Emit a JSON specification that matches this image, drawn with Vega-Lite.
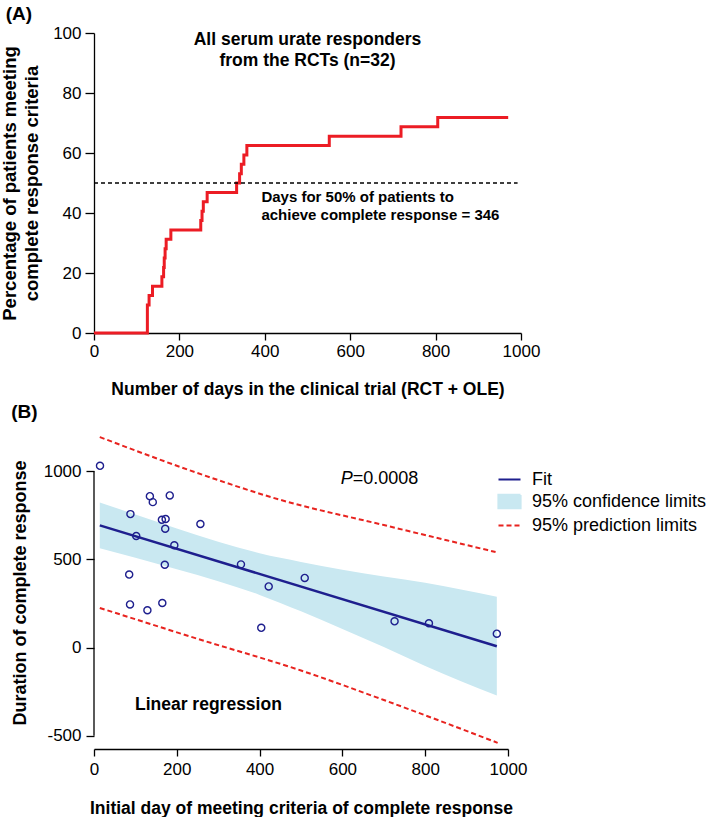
{
  "$schema": "https://vega.github.io/schema/vega-lite/v6.json",
  "padding": {"left": 0, "top": 5, "right": 0, "bottom": 0},
  "spacing": 5,
  "resolve": {"scale": {"color": "independent"}, "legend": {"color": "independent"}},
  "config": {
    "view": {"stroke": null},
    "font": "Liberation Sans",
    "axis": {"grid": false, "labelFont": "Liberation Sans", "titleFont": "Liberation Sans", "labelFontSize": 17, "titleFontSize": 17.5, "titleFontWeight": "bold", "labelColor": "black", "titleColor": "black", "domainColor": "black", "tickColor": "black", "domainWidth": 1.3, "tickWidth": 1.3, "labelExpr": "'' + datum.value"},
    "text": {"font": "Liberation Sans", "color": "black"},
    "title": {"font": "Liberation Sans", "color": "black"}
  },
  "datasets": {
    "steps": [
      {"day": 0, "pct": 0}, {"day": 125, "pct": 9.375}, {"day": 129, "pct": 12.5}, {"day": 137, "pct": 15.625},
      {"day": 159, "pct": 18.75}, {"day": 163, "pct": 21.875}, {"day": 164.5, "pct": 25}, {"day": 166.5, "pct": 28.125},
      {"day": 169, "pct": 31.25}, {"day": 180, "pct": 34.375}, {"day": 250, "pct": 37.5}, {"day": 253, "pct": 40.625},
      {"day": 256, "pct": 43.75}, {"day": 265, "pct": 46.875}, {"day": 334, "pct": 50}, {"day": 341, "pct": 53.125},
      {"day": 345, "pct": 56.25}, {"day": 351, "pct": 59.375}, {"day": 358, "pct": 62.5}, {"day": 551, "pct": 65.625},
      {"day": 719, "pct": 68.75}, {"day": 805, "pct": 71.875}, {"day": 970, "pct": 71.875}
    ],
    "points": [
      {"day": 14.5, "dur": 1031}, {"day": 135, "dur": 859}, {"day": 142, "dur": 825}, {"day": 183, "dur": 863},
      {"day": 88, "dur": 757}, {"day": 164, "dur": 725}, {"day": 173, "dur": 729}, {"day": 172, "dur": 674},
      {"day": 257, "dur": 701}, {"day": 102, "dur": 633}, {"day": 194, "dur": 580}, {"day": 171, "dur": 470},
      {"day": 355, "dur": 472}, {"day": 422, "dur": 347}, {"day": 85, "dur": 414}, {"day": 87, "dur": 245},
      {"day": 165, "dur": 253}, {"day": 129, "dur": 212}, {"day": 509, "dur": 395}, {"day": 404, "dur": 112},
      {"day": 726, "dur": 149}, {"day": 809, "dur": 138}, {"day": 973, "dur": 79}
    ],
    "fit": [
      {"series": "Fit", "day": 14, "val": 693}, {"series": "Fit", "day": 973, "val": 8}
    ],
    "conf": [
      {"series": "95% confidence limits", "day": 14, "lo": 563, "hi": 823},
      {"series": "95% confidence limits", "day": 100, "lo": 509, "hi": 755},
      {"series": "95% confidence limits", "day": 200, "lo": 444, "hi": 676},
      {"series": "95% confidence limits", "day": 300, "lo": 377, "hi": 601},
      {"series": "95% confidence limits", "day": 400, "lo": 299, "hi": 535},
      {"series": "95% confidence limits", "day": 500, "lo": 206, "hi": 486},
      {"series": "95% confidence limits", "day": 600, "lo": 106, "hi": 442},
      {"series": "95% confidence limits", "day": 700, "lo": 3, "hi": 403},
      {"series": "95% confidence limits", "day": 800, "lo": -104, "hi": 368},
      {"series": "95% confidence limits", "day": 973, "lo": -272, "hi": 288}
    ],
    "pred": [
      {"series": "95% prediction limits", "bound": "upper", "day": 14, "val": 1194},
      {"series": "95% prediction limits", "bound": "upper", "day": 250, "val": 990},
      {"series": "95% prediction limits", "bound": "upper", "day": 447, "val": 840},
      {"series": "95% prediction limits", "bound": "upper", "day": 700, "val": 695},
      {"series": "95% prediction limits", "bound": "upper", "day": 970, "val": 542},
      {"series": "95% prediction limits", "bound": "lower", "day": 14, "val": 225},
      {"series": "95% prediction limits", "bound": "lower", "day": 250, "val": 50},
      {"series": "95% prediction limits", "bound": "lower", "day": 500, "val": -130},
      {"series": "95% prediction limits", "bound": "lower", "day": 700, "val": -297},
      {"series": "95% prediction limits", "bound": "lower", "day": 975, "val": -540}
    ]
  },
  "vconcat": [
    {
      "width": 427,
      "height": 300,
      "title": {"text": "(A)", "anchor": "start", "frame": "bounds", "fontSize": 19, "fontWeight": "bold", "offset": 0, "dx": 5},
      "layer": [
        {
          "data": {"name": "steps"},
          "mark": {"type": "line", "interpolate": "step-after", "color": "#ec1c24", "strokeWidth": 3},
          "encoding": {
            "x": {"field": "day", "type": "quantitative", "scale": {"domain": [0, 1000], "nice": false},
              "axis": {"values": [0, 200, 400, 600, 800, 1000], "title": "Number of days in the clinical trial (RCT + OLE)", "labelFlush": false, "tickSize": 7, "labelPadding": 3, "titlePadding": 21}},
            "y": {"field": "pct", "type": "quantitative", "scale": {"domain": [0, 100], "nice": false},
              "axis": {"values": [0, 20, 40, 60, 80, 100], "title": ["Percentage of patients meeting", "complete response criteria"], "titleFontSize": 18.5, "titleLineHeight": 22, "tickSize": 9, "labelPadding": 4, "titlePadding": 11}}
          }
        },
        {
          "data": {"values": [{}]},
          "mark": {"type": "rule", "strokeDash": [4, 3], "strokeWidth": 1.3, "color": "black"},
          "encoding": {"x": {"datum": 0}, "x2": {"datum": 992}, "y": {"datum": 50}}
        },
        {
          "data": {"values": [{}]},
          "mark": {"type": "text", "text": ["All serum urate responders", "from the RCTs (n=32)"], "fontSize": 17.5, "fontWeight": "bold", "align": "center", "baseline": "middle", "lineHeight": 21.7},
          "encoding": {"x": {"datum": 500}, "y": {"datum": 97.8}}
        },
        {
          "data": {"values": [{}]},
          "mark": {"type": "text", "text": ["Days for 50% of patients to", "achieve complete response = 346"], "fontSize": 15, "fontWeight": "bold", "align": "left", "baseline": "middle", "lineHeight": 18.3},
          "encoding": {"x": {"datum": 392}, "y": {"datum": 45.5}}
        }
      ]
    },
    {
      "width": 414,
      "height": 313,
      "title": {"text": "(B)", "anchor": "start", "frame": "bounds", "fontSize": 19, "fontWeight": "bold", "offset": 11, "dx": 0},
      "layer": [
        {
          "data": {"name": "conf"},
          "mark": {"type": "area", "interpolate": "monotone", "opacity": 1},
          "encoding": {
            "x": {"field": "day", "type": "quantitative", "scale": {"domain": [0, 1000], "nice": false},
              "axis": {"values": [0, 200, 400, 600, 800, 1000], "title": "Initial day of meeting criteria of complete response", "labelFlush": false, "tickSize": 7, "labelPadding": 5, "titlePadding": 22}},
            "y": {"field": "lo", "type": "quantitative", "scale": {"domain": [-575, 1200], "nice": false, "zero": false},
              "axis": {"values": [-500, 0, 500, 1000], "domain": false, "title": "Duration of complete response", "titleFontSize": 18, "tickSize": 8, "labelPadding": 5, "titlePadding": 14}},
            "y2": {"field": "hi"},
            "color": {"field": "series", "type": "nominal",
              "scale": {"domain": ["Fit", "95% confidence limits", "95% prediction limits"], "range": ["#1e1f8e", "#c9e8f1", "#e8231f"]},
              "legend": {
                "title": null, "orient": "none", "legendX": 403, "legendY": 31,
                "labelFontSize": 18, "labelFont": "Liberation Sans", "labelColor": "black", "labelLimit": 400,
                "symbolSize": 484, "labelOffset": 10, "rowPadding": 0, "symbolStrokeWidth": 2.2,
                "encode": {
                  "symbols": {
                    "update": {
                      "shape": [{"test": "datum.value === '95% confidence limits'", "value": "M-1,-0.6H1V0.6H-1Z"}, {"value": "stroke"}],
                      "fill": [{"test": "datum.value === '95% confidence limits'", "value": "#c9e8f1"}, {"value": "transparent"}],
                      "stroke": [{"test": "datum.value === 'Fit'", "value": "#1e1f8e"}, {"test": "datum.value === '95% prediction limits'", "value": "#e8231f"}, {"value": "transparent"}],
                      "strokeDash": [{"test": "datum.value === '95% prediction limits'", "value": [5, 3]}, {"value": [1, 0]}],
                      "strokeWidth": {"value": 2.2},
                      "opacity": {"value": 1}
                    }
                  }
                }
              }
            }
          }
        },
        {
          "data": {"name": "pred"},
          "mark": {"type": "line", "interpolate": "monotone", "strokeDash": [5, 3], "strokeWidth": 2},
          "encoding": {
            "x": {"field": "day", "type": "quantitative"},
            "y": {"field": "val", "type": "quantitative"},
            "color": {"field": "series", "type": "nominal",
              "legend": {
                "title": null, "orient": "none", "legendX": 403, "legendY": 31,
                "labelFontSize": 18, "labelFont": "Liberation Sans", "labelColor": "black", "labelLimit": 400,
                "symbolSize": 484, "labelOffset": 10, "rowPadding": 0, "symbolStrokeWidth": 2.2,
                "encode": {
                  "symbols": {
                    "update": {
                      "shape": [{"test": "datum.value === '95% confidence limits'", "value": "M-1,-0.6H1V0.6H-1Z"}, {"value": "stroke"}],
                      "fill": [{"test": "datum.value === '95% confidence limits'", "value": "#c9e8f1"}, {"value": "transparent"}],
                      "stroke": [{"test": "datum.value === 'Fit'", "value": "#1e1f8e"}, {"test": "datum.value === '95% prediction limits'", "value": "#e8231f"}, {"value": "transparent"}],
                      "strokeDash": [{"test": "datum.value === '95% prediction limits'", "value": [5, 3]}, {"value": [1, 0]}],
                      "strokeWidth": {"value": 2.2},
                      "opacity": {"value": 1}
                    }
                  }
                }
              }},
            "detail": {"field": "bound"}
          }
        },
        {
          "data": {"name": "fit"},
          "mark": {"type": "line", "strokeWidth": 2.5},
          "encoding": {
            "x": {"field": "day", "type": "quantitative"},
            "y": {"field": "val", "type": "quantitative"},
            "color": {"field": "series", "type": "nominal",
              "legend": {
                "title": null, "orient": "none", "legendX": 403, "legendY": 31,
                "labelFontSize": 18, "labelFont": "Liberation Sans", "labelColor": "black", "labelLimit": 400,
                "symbolSize": 484, "labelOffset": 10, "rowPadding": 0, "symbolStrokeWidth": 2.2,
                "encode": {
                  "symbols": {
                    "update": {
                      "shape": [{"test": "datum.value === '95% confidence limits'", "value": "M-1,-0.6H1V0.6H-1Z"}, {"value": "stroke"}],
                      "fill": [{"test": "datum.value === '95% confidence limits'", "value": "#c9e8f1"}, {"value": "transparent"}],
                      "stroke": [{"test": "datum.value === 'Fit'", "value": "#1e1f8e"}, {"test": "datum.value === '95% prediction limits'", "value": "#e8231f"}, {"value": "transparent"}],
                      "strokeDash": [{"test": "datum.value === '95% prediction limits'", "value": [5, 3]}, {"value": [1, 0]}],
                      "strokeWidth": {"value": 2.2},
                      "opacity": {"value": 1}
                    }
                  }
                }
              }}
          }
        },
        {
          "data": {"name": "points"},
          "mark": {"type": "point", "shape": "circle", "filled": false, "stroke": "#1e1f8e", "strokeWidth": 1.4, "size": 50, "opacity": 1},
          "encoding": {
            "x": {"field": "day", "type": "quantitative"},
            "y": {"field": "dur", "type": "quantitative"}
          }
        },
        {
          "data": {"values": [{}]},
          "mark": {"type": "rule", "color": "black", "strokeWidth": 1.3},
          "encoding": {"x": {"datum": 0}, "y": {"datum": -500}, "y2": {"datum": 1000}}
        },
        {
          "data": {"values": [{}]},
          "mark": {"type": "text", "text": "Linear regression", "fontSize": 17.5, "fontWeight": "bold", "align": "left", "baseline": "middle"},
          "encoding": {"x": {"datum": 99}, "y": {"datum": -327}}
        },
        {
          "data": {"values": [{}]},
          "mark": {"type": "text", "text": "P", "fontSize": 18, "fontStyle": "italic", "align": "right", "baseline": "middle"},
          "encoding": {"x": {"datum": 625}, "y": {"datum": 957}}
        },
        {
          "data": {"values": [{}]},
          "mark": {"type": "text", "text": "=0.0008", "fontSize": 18, "align": "left", "baseline": "middle"},
          "encoding": {"x": {"datum": 625}, "y": {"datum": 957}}
        }
      ]
    }
  ]
}
